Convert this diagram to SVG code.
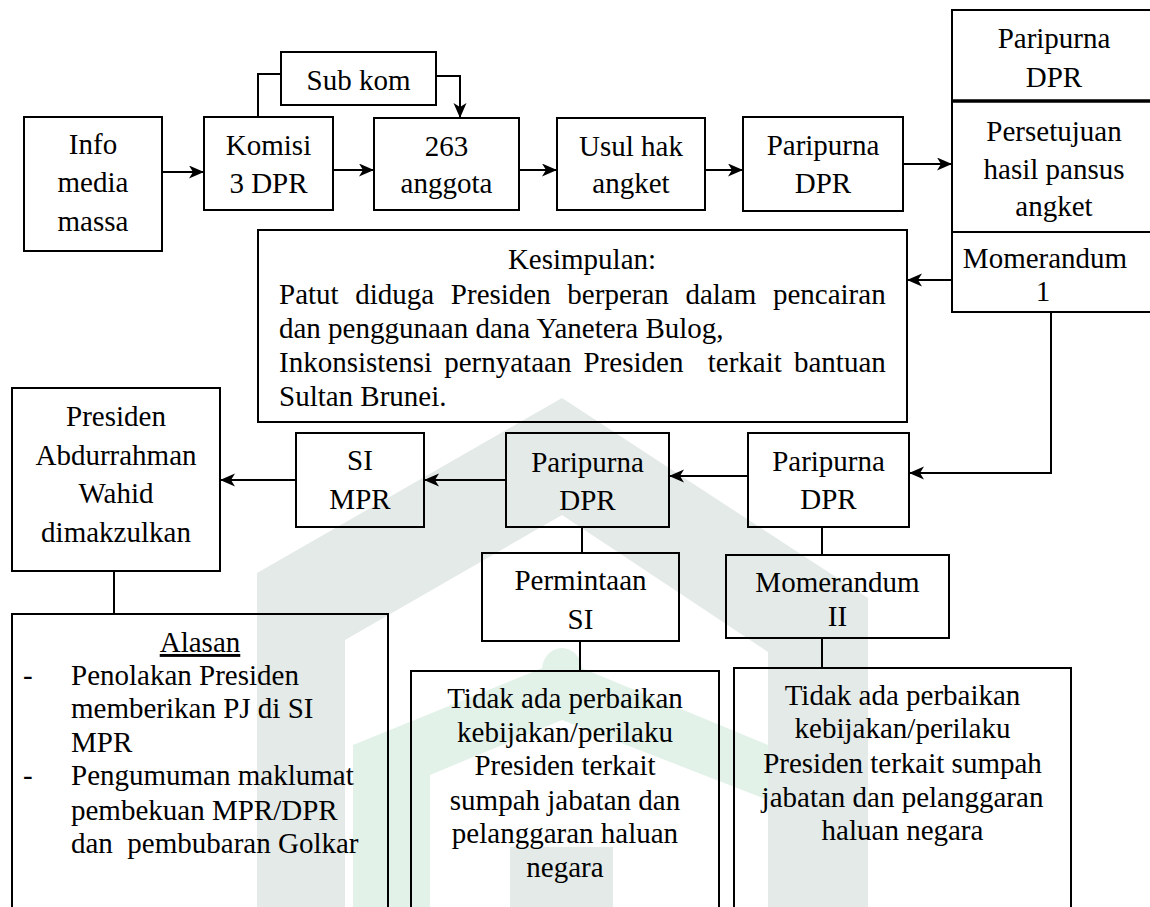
<svg xmlns="http://www.w3.org/2000/svg" width="1150" height="907" viewBox="0 0 1150 907">
<style>
.box{fill:none;stroke:#000;stroke-width:2}
.t{font-family:"Liberation Serif","Times New Roman",serif;font-size:29px;fill:#000}
.c{text-anchor:middle}
.ln{fill:none;stroke:#000;stroke-width:2}
.ar{marker-end:url(#ah)}
.wg{fill:#e4eae7}
.wn{fill:#e2f2e9}
</style>
<defs>
<marker id="ah" markerUnits="userSpaceOnUse" markerWidth="16" markerHeight="14" refX="15" refY="6.5" orient="auto">
<path d="M0,0 L15,6.5 L0,13 L4,6.5 z" fill="#000"/>
</marker>
</defs>
<rect width="1150" height="907" fill="#fff"/>
<g id="watermark">
<polygon class="wg" points="562,398 868,598 868,907 768,907 768,652 562,515 345,640 345,907 257,907 257,573"/>
<polygon class="wn" points="353,745 562,660 768,745 768,800 562,720 430,775 430,907 353,907"/>
<ellipse class="wn" cx="562" cy="670" rx="20" ry="22"/>
<rect class="wg" x="510" y="847" width="103" height="60"/>
</g>
<g id="connectors">
<line class="ln ar" x1="162" y1="172" x2="204" y2="172"/>
<line class="ln ar" x1="333" y1="170" x2="374" y2="170"/>
<line class="ln ar" x1="519" y1="170" x2="557" y2="170"/>
<line class="ln ar" x1="705" y1="170" x2="743" y2="170"/>
<line class="ln ar" x1="903" y1="164" x2="952" y2="164"/>
<polyline class="ln" points="258,117 258,74 281,74"/>
<polyline class="ln ar" points="436,76 460,76 460,118"/>
<line class="ln ar" x1="952" y1="280" x2="907" y2="280"/>
<polyline class="ln ar" points="1051,312 1051,473 909,473"/>
<line class="ln ar" x1="748" y1="476" x2="669" y2="476"/>
<line class="ln ar" x1="506" y1="480" x2="424" y2="480"/>
<line class="ln ar" x1="296" y1="480" x2="220" y2="480"/>
<line class="ln" x1="114" y1="571" x2="114" y2="614"/>
<line class="ln" x1="582" y1="527" x2="582" y2="553"/>
<line class="ln" x1="580" y1="641" x2="580" y2="671"/>
<line class="ln" x1="822" y1="527" x2="822" y2="555"/>
<line class="ln" x1="822" y1="638" x2="822" y2="668"/>
</g>
<g id="info">
<rect class="box" x="24" y="117" width="138" height="134"/>
<text class="t c" x="93" y="154">Info</text>
<text class="t c" x="93" y="192">media</text>
<text class="t c" x="93" y="231">massa</text>
</g>
<g id="komisi">
<rect class="box" x="204" y="117" width="129" height="93"/>
<text class="t c" x="268.5" y="155">Komisi</text>
<text class="t c" x="268.5" y="193">3 DPR</text>
</g>
<g id="subkom">
<rect class="box" x="281" y="52" width="155" height="53"/>
<text class="t c" x="358.5" y="90">Sub kom</text>
</g>
<g id="anggota">
<rect class="box" x="374" y="118" width="145" height="92"/>
<text class="t c" x="446.5" y="156">263</text>
<text class="t c" x="446.5" y="193">anggota</text>
</g>
<g id="usul">
<rect class="box" x="557" y="118" width="148" height="92"/>
<text class="t c" x="631" y="156">Usul hak</text>
<text class="t c" x="631" y="193">angket</text>
</g>
<g id="paripurna1">
<rect class="box" x="743" y="117" width="160" height="94"/>
<text class="t c" x="823" y="155">Paripurna</text>
<text class="t c" x="823" y="193">DPR</text>
</g>
<g id="stack">
<rect class="box" x="952" y="10" width="210" height="302"/>
<line x1="952" y1="101" x2="1152" y2="101" stroke="#000" stroke-width="3.5"/>
<line x1="952" y1="232" x2="1152" y2="232" stroke="#000" stroke-width="2"/>
<text class="t c" x="1054" y="48">Paripurna</text>
<text class="t c" x="1054" y="87">DPR</text>
<text class="t c" x="1054" y="141">Persetujuan</text>
<text class="t c" x="1054" y="179">hasil pansus</text>
<text class="t c" x="1054" y="216">angket</text>
<text class="t c" x="1045" y="268">Momerandum</text>
<text class="t c" x="1043" y="301">1</text>
</g>
<g id="kesimpulan">
<rect class="box" x="258" y="230" width="649" height="192"/>
<text class="t c" x="582" y="269">Kesimpulan:</text>
<text class="t" x="279" y="304" word-spacing="9.4">Patut diduga Presiden berperan dalam pencairan</text>
<text class="t" x="279" y="338">dan penggunaan dana Yanetera Bulog,</text>
<text class="t" x="279" y="372" word-spacing="4.9" xml:space="preserve">Inkonsistensi pernyataan Presiden  terkait bantuan</text>
<text class="t" x="279" y="406">Sultan Brunei.</text>
</g>
<g id="presiden">
<rect class="box" x="12" y="388" width="208" height="183"/>
<text class="t c" x="116" y="426">Presiden</text>
<text class="t c" x="116" y="465">Abdurrahman</text>
<text class="t c" x="116" y="503">Wahid</text>
<text class="t c" x="116" y="542">dimakzulkan</text>
</g>
<g id="simpr">
<rect class="box" x="296" y="433" width="128" height="94"/>
<text class="t c" x="360" y="470">SI</text>
<text class="t c" x="360" y="509">MPR</text>
</g>
<g id="paripurna2">
<rect class="box" x="506" y="433" width="163" height="94"/>
<text class="t c" x="587.5" y="472">Paripurna</text>
<text class="t c" x="587.5" y="510">DPR</text>
</g>
<g id="paripurna3">
<rect class="box" x="748" y="433" width="161" height="94"/>
<text class="t c" x="828.5" y="471">Paripurna</text>
<text class="t c" x="828.5" y="509">DPR</text>
</g>
<g id="permintaan">
<rect class="box" x="482" y="553" width="197" height="88"/>
<text class="t c" x="580.5" y="590">Permintaan</text>
<text class="t c" x="580.5" y="629">SI</text>
</g>
<g id="momerandum2">
<rect class="box" x="726" y="555" width="223" height="83"/>
<text class="t c" x="837.5" y="592">Momerandum</text>
<text class="t c" x="837.5" y="626">II</text>
</g>
<g id="alasan">
<rect class="box" x="12" y="614" width="376" height="310"/>
<text class="t c" x="200" y="652" text-decoration="underline">Alasan</text>
<text class="t" x="23" y="685">-</text>
<text class="t" x="71" y="685">Penolakan Presiden</text>
<text class="t" x="71" y="718">memberikan PJ di SI</text>
<text class="t" x="71" y="752">MPR</text>
<text class="t" x="23" y="785">-</text>
<text class="t" x="71" y="785">Pengumuman maklumat</text>
<text class="t" x="71" y="820">pembekuan MPR/DPR</text>
<text class="t" x="71" y="853" xml:space="preserve">dan  pembubaran Golkar</text>
</g>
<g id="tidak1">
<rect class="box" x="411" y="671" width="308" height="260"/>
<text class="t c" x="565" y="708">Tidak ada perbaikan</text>
<text class="t c" x="565" y="742">kebijakan/perilaku</text>
<text class="t c" x="565" y="775">Presiden terkait</text>
<text class="t c" x="565" y="810">sumpah jabatan dan</text>
<text class="t c" x="565" y="843">pelanggaran haluan</text>
<text class="t c" x="565" y="877">negara</text>
</g>
<g id="tidak2">
<rect class="box" x="734" y="668" width="337" height="260"/>
<text class="t c" x="902.5" y="705">Tidak ada perbaikan</text>
<text class="t c" x="902.5" y="738">kebijakan/perilaku</text>
<text class="t c" x="902.5" y="773">Presiden terkait sumpah</text>
<text class="t c" x="902.5" y="807">jabatan dan pelanggaran</text>
<text class="t c" x="902.5" y="840">haluan negara</text>
</g>
</svg>
